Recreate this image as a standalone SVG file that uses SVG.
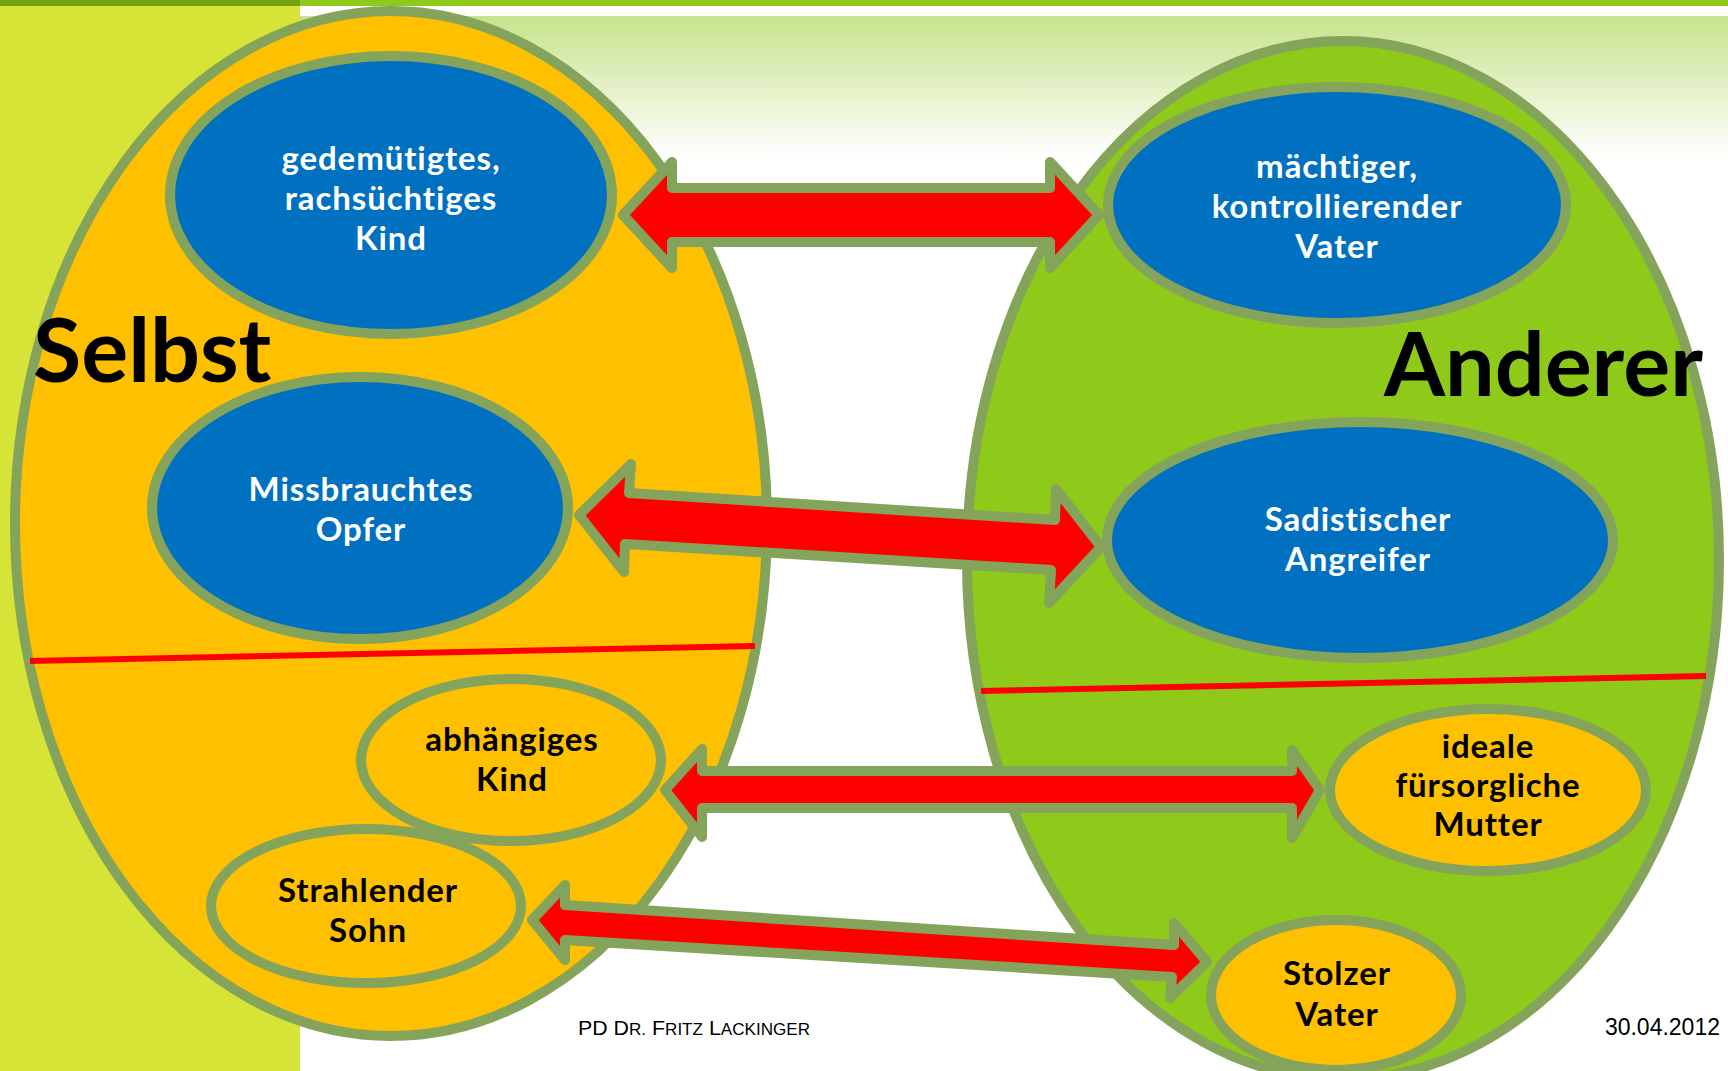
<svg xmlns="http://www.w3.org/2000/svg" width="1728" height="1071" viewBox="0 0 1728 1071">
<defs>
<linearGradient id="topg" x1="0" y1="0" x2="0" y2="1">
<stop offset="0" stop-color="#c6e38c"/>
<stop offset="1" stop-color="#ffffff"/>
</linearGradient>
<style>
.big{stroke:#85a45b;stroke-width:10}
.node{stroke:#85a45b;stroke-width:10}
.blue{fill:#0070c0}
.orange{fill:#ffc000}
.lbl{font-family:Lato,"Open Sans","Noto Sans",sans-serif;font-weight:700;font-size:33px;letter-spacing:0.9px;text-anchor:middle}
.wt{fill:#ffffff}
.bk{fill:#000000}
.head{font-family:Lato,"Open Sans","Noto Sans",sans-serif;font-weight:700;font-size:88px;fill:#000}
.arrow{fill:#ff0000;stroke:#85a45b;stroke-width:10;stroke-linejoin:round}
.sep{stroke:#ff0000;stroke-width:6}
.foot{font-family:"Liberation Sans",Arial,sans-serif;fill:#000}
</style>
</defs>
<rect x="0" y="0" width="1728" height="1071" fill="#ffffff"/>
<rect x="300" y="16" width="1428" height="140" fill="url(#topg)"/>
<rect x="0" y="0" width="300" height="1071" fill="#d6e437"/>
<rect x="0" y="0" width="300" height="6" fill="#76a012"/>
<rect x="300" y="0" width="1428" height="6" fill="#8fc91a"/>

<g id="selbst-area">
<ellipse class="big" cx="391" cy="523.5" rx="376" ry="512.5" fill="#ffc000"/>
</g>
<g id="anderer-area">
<ellipse class="big" cx="1343" cy="560" rx="376" ry="519" fill="#8fca1a"/>
</g>
<g id="separators">
<line class="sep" x1="30" y1="661" x2="755" y2="646"/>
<line class="sep" x1="981" y1="691" x2="1706" y2="676"/>
</g>
<text id="label-selbst" class="head" x="33" y="382">Selbst</text>
<text id="label-anderer" class="head" x="1703" y="396" text-anchor="end">Anderer</text>

<g id="node-gedemuetigtes-kind">
<ellipse class="node blue" cx="391" cy="195" rx="221" ry="139"/>
<text class="lbl wt"><tspan x="391" y="170">gedemütigtes,</tspan><tspan x="391" y="210">rachsüchtiges</tspan><tspan x="391" y="250">Kind</tspan></text>
</g>
<g id="node-maechtiger-vater">
<ellipse class="node blue" cx="1337" cy="205" rx="229" ry="118"/>
<text class="lbl wt"><tspan x="1337" y="178">mächtiger,</tspan><tspan x="1337" y="218">kontrollierender</tspan><tspan x="1337" y="258">Vater</tspan></text>
</g>
<g id="node-missbrauchtes-opfer">
<ellipse class="node blue" cx="360" cy="508" rx="208" ry="131"/>
<text class="lbl wt"><tspan x="361" y="501">Missbrauchtes</tspan><tspan x="361" y="541">Opfer</tspan></text>
</g>
<g id="node-sadistischer-angreifer">
<ellipse class="node blue" cx="1360" cy="540" rx="253" ry="118"/>
<text class="lbl wt"><tspan x="1358" y="531">Sadistischer</tspan><tspan x="1358" y="571">Angreifer</tspan></text>
</g>
<g id="node-abhaengiges-kind">
<ellipse class="node orange" cx="511" cy="760" rx="150" ry="81"/>
<text class="lbl bk"><tspan x="512" y="751">abhängiges</tspan><tspan x="512" y="791">Kind</tspan></text>
</g>
<g id="node-strahlender-sohn">
<ellipse class="node orange" cx="366" cy="906" rx="155" ry="77"/>
<text class="lbl bk"><tspan x="368" y="902">Strahlender</tspan><tspan x="368" y="942">Sohn</tspan></text>
</g>
<g id="node-ideale-mutter">
<ellipse class="node orange" cx="1488" cy="790" rx="158" ry="81"/>
<text class="lbl bk"><tspan x="1488" y="758">ideale</tspan><tspan x="1488" y="797">fürsorgliche</tspan><tspan x="1488" y="836">Mutter</tspan></text>
</g>
<g id="node-stolzer-vater">
<ellipse class="node orange" cx="1336" cy="995" rx="125" ry="75"/>
<text class="lbl bk"><tspan x="1337" y="985">Stolzer</tspan><tspan x="1337" y="1026">Vater</tspan></text>
</g>

<g id="connectors">
<polygon class="arrow" points="623,215 672,162 672,188 1050,188 1050,162 1099,215 1050,268 1050,242 672,242 672,268"/>
<polygon class="arrow" points="579,515 631,464 629,493 1055,520 1056,489 1101,547 1049,603 1051,570 625,544 624,572"/>
<polygon class="arrow" points="665,790 702,749 702,771 1292,771 1292,750 1320,790 1292,838 1292,808 702,808 702,837"/>
<polygon class="arrow" points="532,920 565,885 565,905 1174,945 1174,923 1207,962 1170,998 1172,977 565,940 565,960"/>
</g>

<text id="footer-author" class="foot" x="578" y="1035" textLength="232" lengthAdjust="spacingAndGlyphs"><tspan font-size="20">PD D</tspan><tspan font-size="16">R.</tspan><tspan font-size="20"> F</tspan><tspan font-size="16">RITZ</tspan><tspan font-size="20"> L</tspan><tspan font-size="16">ACKINGER</tspan></text>
<text id="footer-date" class="foot" x="1720" y="1035" font-size="23" text-anchor="end">30.04.2012</text>
</svg>
